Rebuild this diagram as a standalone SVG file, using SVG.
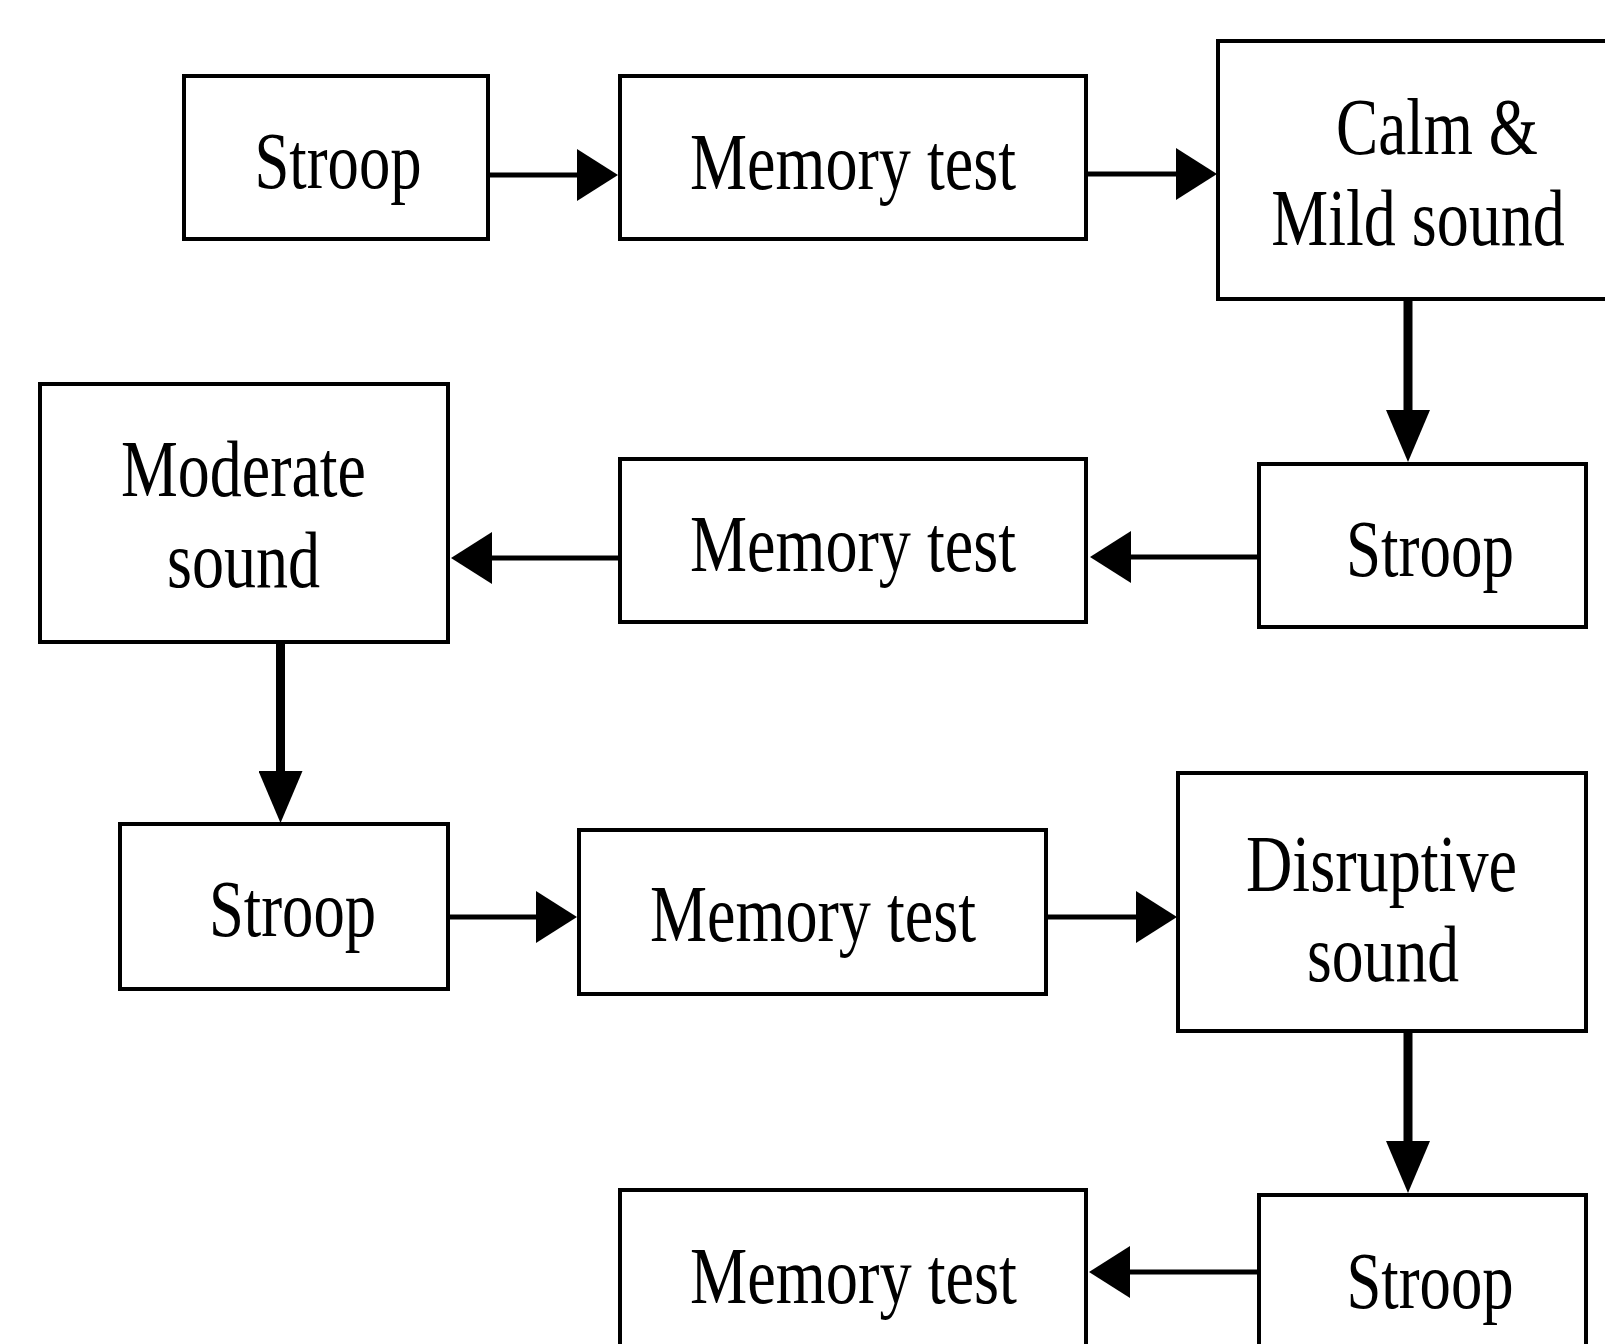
<svg xmlns="http://www.w3.org/2000/svg" width="1605" height="1344" viewBox="0 0 1605 1344">
<style>
.box{fill:#fff;stroke:#000;stroke-width:4}
.lbl{font-family:"Liberation Serif","Times New Roman",serif;font-size:80px;fill:#000;text-anchor:middle}
.h{stroke:#000;stroke-width:5;fill:none}
.v{stroke:#000;stroke-width:9;fill:none}
</style>
<defs>
<marker id="ah" markerUnits="userSpaceOnUse" markerWidth="41" markerHeight="52" refX="0" refY="26" orient="auto">
<path d="M0,0 L41,26 L0,52 Z" fill="#000"/>
</marker>
<marker id="av" markerUnits="userSpaceOnUse" markerWidth="52" markerHeight="44" refX="0" refY="22" orient="auto">
<path d="M0,0 L52,22 L0,44 Z" fill="#000"/>
</marker>
</defs>
<rect width="1605" height="1344" fill="#fff"/>
<g id="connectors">
<line class="h" x1="488" y1="175" x2="577" y2="175" marker-end="url(#ah)"/>
<line class="h" x1="1086" y1="174" x2="1176" y2="174" marker-end="url(#ah)"/>
<path class="v" d="M1408,299 V410" marker-end="url(#av)"/>
<line class="h" x1="1259" y1="557" x2="1131" y2="557" marker-end="url(#ah)"/>
<line class="h" x1="620" y1="558" x2="492" y2="558" marker-end="url(#ah)"/>
<path class="v" d="M280.5,642 V771" marker-end="url(#av)"/>
<line class="h" x1="448" y1="917" x2="536" y2="917" marker-end="url(#ah)"/>
<line class="h" x1="1046" y1="917" x2="1136" y2="917" marker-end="url(#ah)"/>
<path class="v" d="M1408,1031 V1141" marker-end="url(#av)"/>
<line class="h" x1="1259" y1="1272" x2="1130" y2="1272" marker-end="url(#ah)"/>
</g>
<g id="stroop1">
<rect class="box" x="184" y="76" width="304" height="163"/>
<text class="lbl" x="338" y="188" textLength="167" lengthAdjust="spacingAndGlyphs">Stroop</text>
</g>
<g id="memory1">
<rect class="box" x="620" y="76" width="466" height="163"/>
<text class="lbl" x="853" y="189" textLength="326" lengthAdjust="spacingAndGlyphs">Memory test</text>
</g>
<g id="calm">
<path class="box" d="M1605,41 H1218 V299 H1605"/>
<text class="lbl" x="1437" y="154" textLength="202" lengthAdjust="spacingAndGlyphs">Calm &amp;</text>
<text class="lbl" transform="translate(1418,245) scale(0.8,1)" x="0" y="0">Mild sound</text>
</g>
<g id="moderate">
<rect class="box" x="40" y="384" width="408" height="258"/>
<text class="lbl" x="243.5" y="496" textLength="245" lengthAdjust="spacingAndGlyphs">Moderate</text>
<text class="lbl" x="243.5" y="587" textLength="153" lengthAdjust="spacingAndGlyphs">sound</text>
</g>
<g id="memory2">
<rect class="box" x="620" y="459" width="466" height="163"/>
<text class="lbl" x="853" y="571" textLength="326" lengthAdjust="spacingAndGlyphs">Memory test</text>
</g>
<g id="stroop2">
<rect class="box" x="1259" y="464" width="327" height="163"/>
<text class="lbl" x="1430" y="576" textLength="168" lengthAdjust="spacingAndGlyphs">Stroop</text>
</g>
<g id="stroop3">
<rect class="box" x="120" y="824" width="328" height="165"/>
<text class="lbl" x="292.5" y="936" textLength="167" lengthAdjust="spacingAndGlyphs">Stroop</text>
</g>
<g id="memory3">
<rect class="box" x="579" y="830" width="467" height="164"/>
<text class="lbl" x="813" y="941" textLength="326" lengthAdjust="spacingAndGlyphs">Memory test</text>
</g>
<g id="disruptive">
<rect class="box" x="1178" y="773" width="408" height="258"/>
<text class="lbl" x="1381.5" y="891" textLength="271" lengthAdjust="spacingAndGlyphs">Disruptive</text>
<text class="lbl" x="1383" y="981" textLength="152" lengthAdjust="spacingAndGlyphs">sound</text>
</g>
<g id="memory4">
<path class="box" d="M620,1344 V1190 H1086 V1344"/>
<text class="lbl" x="853.5" y="1303" textLength="327" lengthAdjust="spacingAndGlyphs">Memory test</text>
</g>
<g id="stroop4">
<path class="box" d="M1259,1344 V1195 H1586 V1344"/>
<text class="lbl" x="1430" y="1308" textLength="167" lengthAdjust="spacingAndGlyphs">Stroop</text>
</g>
</svg>
